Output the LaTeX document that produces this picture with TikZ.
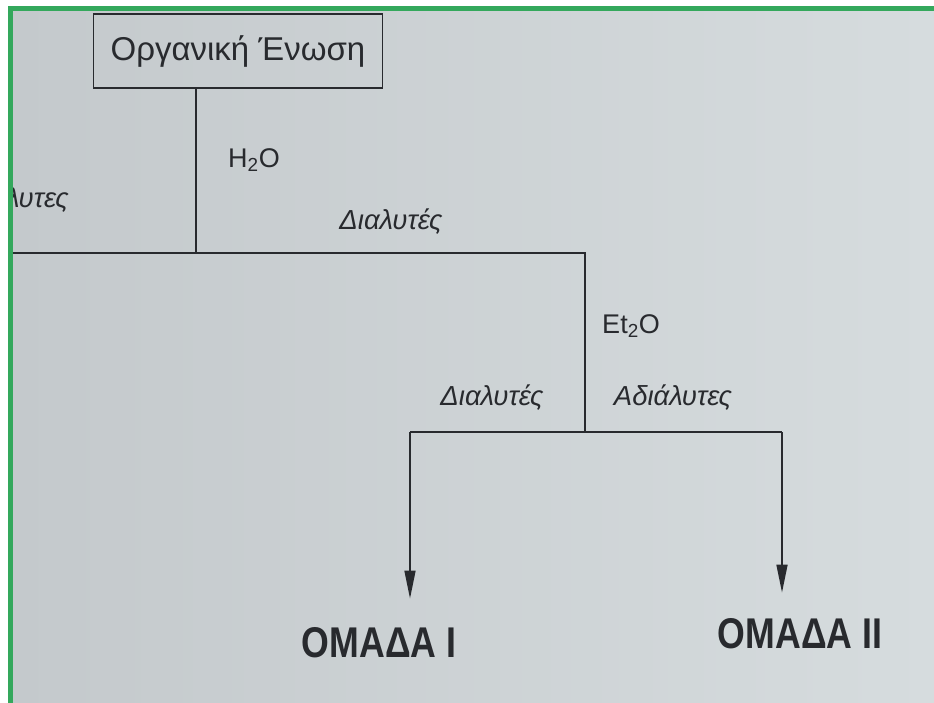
\documentclass[tikz,border=0pt]{standalone}
\usepackage{fontspec}
\setmainfont{Liberation Sans}
\usepackage{tikz}
\usetikzlibrary{positioning,arrows.meta}

\definecolor{framegreen}{RGB}{52,168,92}
\definecolor{paperdark}{RGB}{196,201,204}
\definecolor{papermid}{RGB}{224,229,232}
\definecolor{paperright}{RGB}{214,220,222}
\definecolor{ink}{RGB}{40,42,46}

\begin{document}
\begin{tikzpicture}[
    x=1pt, y=-1pt,
    box/.style={
        rectangle,
        draw=ink,
        line width=1.6pt,
        minimum width=289pt,
        minimum height=74pt,
        align=center,
        text=ink,
        font=\fontsize{33}{36}\selectfont
    },
    label/.style={
        text=ink,
        inner sep=0pt,
        font=\fontsize{27}{30}\selectfont
    },
    solvent/.style={
        label,
        font=\fontsize{27.5}{30}\selectfont\itshape
    },
    group/.style={
        text=ink,
        inner sep=0pt,
        xscale=0.83,
        font=\fontsize{43}{46}\selectfont\bfseries
    },
    line/.style={
        ink,
        line width=1.6pt
    },
    arrow/.style={
        line,
        -{Triangle[length=28pt,width=11pt]}
    }
]

% photo of the page
\useasboundingbox (0,0) rectangle (934,703);
\fill[white] (0,0) rectangle (934,703);
\fill[framegreen] (8,6) rectangle (934,703);
\shade[left color=paperdark, middle color=papermid, right color=paperright]
    (13,12) rectangle (934,703);

\begin{scope}
\clip (13,12) rectangle (934,703);

\node[box] (comp) at (238,51) {Οργανική Ένωση};

\node[label] (water) at (254,160) {H\textsubscript{2}O};
\node[solvent] (sol1) at (391,222) {Διαλυτές};
\node[solvent, anchor=east] (ins1) at (69,200) {Αδιάλυτες};

\coordinate (j1) at (196,253);
\coordinate (w1) at (13,253);
\coordinate (j2) at (585,253);
\coordinate (j3) at (585,432);

\node[label] (ether) at (631,326) {Et\textsubscript{2}O};
\node[solvent] (sol2) at (492,398) {Διαλυτές};
\node[solvent] (ins2) at (673,398) {Αδιάλυτες};

\coordinate (l1) at (410,432);
\coordinate (r1) at (782,432);

\node[group] (grp1) at (379,643) {ΟΜΑΔΑ Ι};
\node[group] (grp2) at (800,634) {ΟΜΑΔΑ ΙΙ};

\draw[line] (comp.south -| j1) -- (j1);
\draw[line] (w1) -- (j1) -- (j2) -- (j3);
\draw[line] (l1) -- (j3) -- (r1);
\draw[arrow] (l1) -- ([yshift=29pt]grp1.north -| l1);
\draw[arrow] (r1) -- ([yshift=26pt]grp2.north -| r1);
\end{scope}

\end{tikzpicture}
\end{document}
